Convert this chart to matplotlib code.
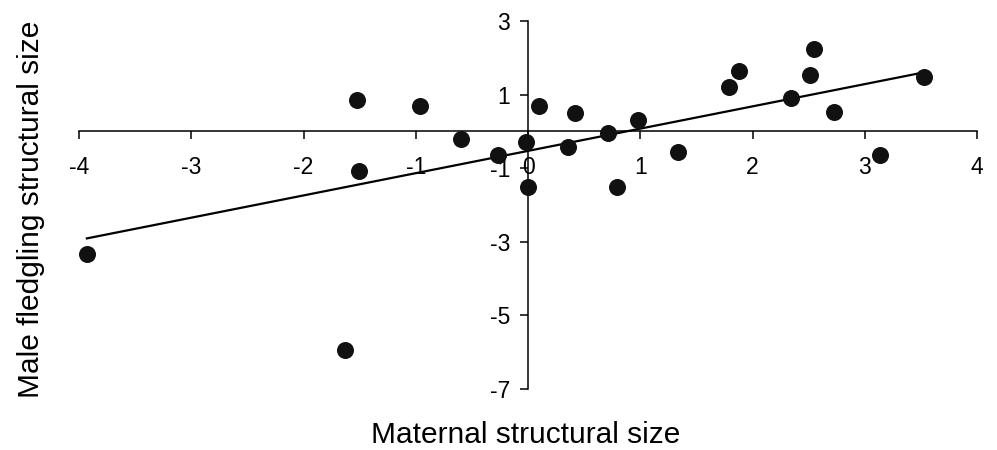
import numpy as np
import matplotlib
matplotlib.use('Agg')
import matplotlib.pyplot as plt

plt.rcParams['font.family'] = ['Liberation Sans', 'DejaVu Sans']

# maternal structural size (x) vs male fledgling structural size (y)
maternal = [-3.93, -1.63, -1.52, -1.51, -0.96, -0.60, -0.27, -0.02, 0.00,
            0.10, 0.42, 0.36, 0.71, 0.79, 0.98, 1.34, 1.79, 1.88, 2.55,
            2.51, 2.34, 2.73, 3.14, 3.53]
fledgling = [-3.32, -5.95, 0.86, -1.08, 0.68, -0.22, -0.65, -0.30, -1.51,
             0.68, 0.49, -0.43, -0.05, -1.51, 0.30, -0.57, 1.22, 1.65, 2.24,
             1.54, 0.92, 0.54, -0.65, 1.49]

# regression line
fit_slope = 0.605
fit_intercept = -0.53

xticks = [-4, -3, -2, -1, 0, 1, 2, 3, 4]
yticks = [3, 1, -1, -3, -5, -7]

fig = plt.figure(figsize=(9.97, 4.5), dpi=100)
ax = fig.add_axes([79/997, 61/450, 898/997, 368/450])

ax.scatter(maternal, fledgling, s=150, color='#111111', zorder=3, linewidths=0)

xl = np.array([min(maternal), max(maternal)])
ax.plot(xl, fit_slope*xl + fit_intercept, color='black', lw=1.6, zorder=2)

ax.set_xlim(-4, 4)
ax.set_ylim(-7, 3)

ax.spines['left'].set_position(('data', 0))
ax.spines['bottom'].set_position(('data', 0))
ax.spines['right'].set_visible(False)
ax.spines['top'].set_visible(False)
for sp in ['left', 'bottom']:
    ax.spines[sp].set_linewidth(1.1)

ax.set_xticks(xticks)
ax.set_yticks(yticks)
ax.set_xticklabels([str(v) for v in xticks])
ax.set_yticklabels([str(v) for v in yticks])
ax.tick_params(axis='x', direction='out', length=6, width=1.1, pad=12, labelsize=16.5)
ax.tick_params(axis='y', direction='out', length=6, width=1.1, pad=7, labelsize=16.5)

fig.text(31/997, 1 - 209/450, 'Male fledgling structural size', rotation=90,
         ha='center', va='center', fontsize=21.5)
fig.text(526/997, 1 - 443/450, 'Maternal structural size',
         ha='center', va='baseline', fontsize=21.5)

plt.savefig('out.png', dpi=100)
